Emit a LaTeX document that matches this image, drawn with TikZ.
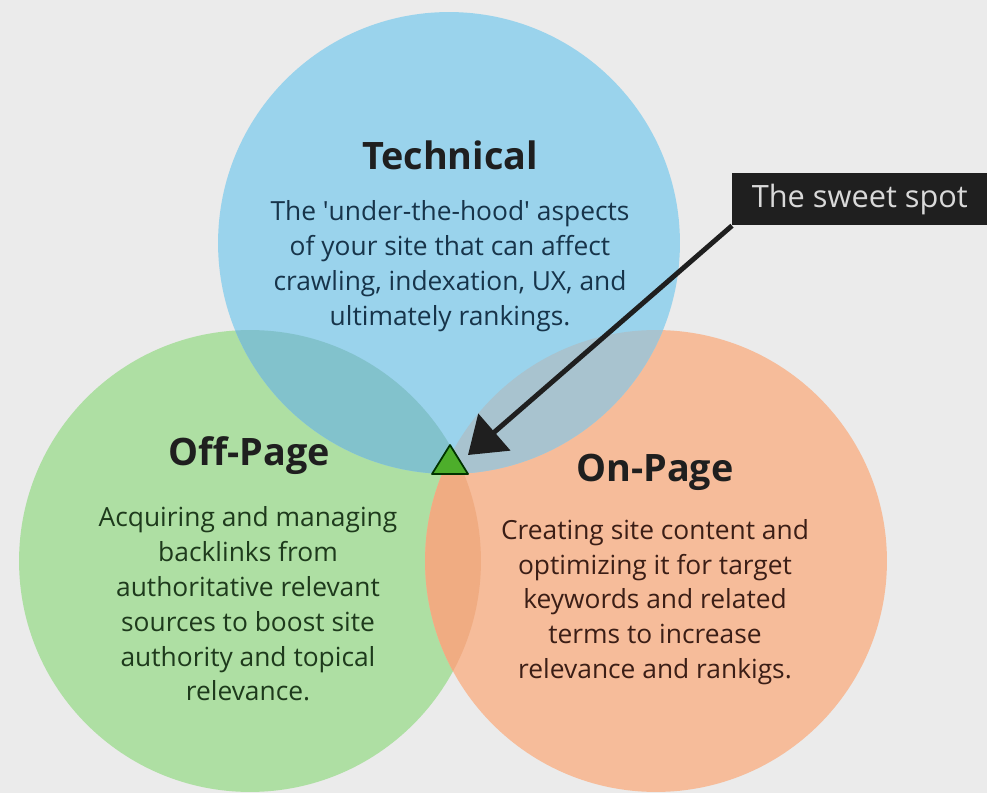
\documentclass[tikz,border=0pt]{standalone}
\usepackage{fontspec}
\setmainfont{Open Sans}
\usetikzlibrary{arrows.meta}

\definecolor{bggrey}{HTML}{EBEBEB}
\definecolor{techblue}{HTML}{9AD3EC}
\definecolor{offgreen}{HTML}{AEDFA3}
\definecolor{onorange}{HTML}{F6BC9A}
\definecolor{techoff}{HTML}{82C2CC}
\definecolor{techon}{HTML}{A8C3CF}
\definecolor{offon}{HTML}{F0AC82}
\definecolor{allthree}{HTML}{9DB9B0}
\definecolor{techtext}{HTML}{17344A}
\definecolor{offtext}{HTML}{1E3A1C}
\definecolor{ontext}{HTML}{3B1E16}
\definecolor{spotgreen}{HTML}{4DAE2B}

\tikzset{
    titletext/.style={font=\bfseries\fontsize{21.5}{25}\selectfont, text=black!88, inner sep=0pt},
    bodytext/.style={align=center, font=\fontsize{15}{19.8}\selectfont, inner sep=0pt},
    sweetbox/.style={fill=black!88, text=black!15, inner sep=0pt, anchor=north west,
        minimum width=5.1cm, minimum height=1.04cm, font=\fontsize{17.5}{20}\selectfont},
}

\begin{document}
\begin{tikzpicture}[x=0.02cm, y=-0.02cm]
        \useasboundingbox (0, 0) rectangle (987, 793);
        \fill[bggrey] (0, 0) rectangle (987, 793);

        \coordinate (T) at (449, 243);
        \coordinate (F) at (250, 561);
        \coordinate (N) at (656, 561);
        \def\rad{4.62cm}

        % the three circles
        \fill[offgreen] (F) circle (\rad);
        \fill[onorange] (N) circle (\rad);
        \fill[techblue] (T) circle (\rad);

        % overlaps
        \begin{scope}
            \clip (F) circle (\rad);
            \fill[offon] (N) circle (\rad);
        \end{scope}
        \begin{scope}
            \clip (T) circle (\rad);
            \fill[techoff] (F) circle (\rad);
            \fill[techon] (N) circle (\rad);
            \clip (F) circle (\rad);
            \fill[allthree] (N) circle (\rad);
        \end{scope}

        \node[titletext] (techtitle) at (450, 155) {Technical};
        \node[bodytext, text=techtext] (techbody) at (450, 266)
            {The \textquotesingle under-the-hood\textquotesingle\ aspects\\of your site that can affect\\crawling, indexation, UX, and\\ultimately rankings.};

        \node[titletext] (offtitle) at (249, 456) {Off-Page};
        \node[bodytext, text=offtext] (offbody) at (248, 604)
            {Acquiring and managing\\backlinks from\\authoritative relevant\\sources to boost site\\authority and topical\\relevance.};

        \node[titletext] (ontitle) at (655, 472) {On-Page};
        \node[bodytext, text=ontext] (onbody) at (655, 602)
            {Creating site content and\\optimizing it for target\\keywords and related\\terms to increase\\relevance and rankigs.};

        % sweet spot marker
        \filldraw[fill=spotgreen, draw=black!80!green, line width=1pt, line join=round]
            (432, 474) -- (468, 474) -- (450, 445) -- cycle;
        \coordinate (tip) at (468, 455);

        \node[sweetbox] (sweet) at (732, 173) {The sweet spot};
        \draw[-{Triangle[length=0.7cm, width=0.96cm]}, line width=2.8pt, black!88] (sweet.south west) -- (tip);

    \end{tikzpicture}
\end{document}
